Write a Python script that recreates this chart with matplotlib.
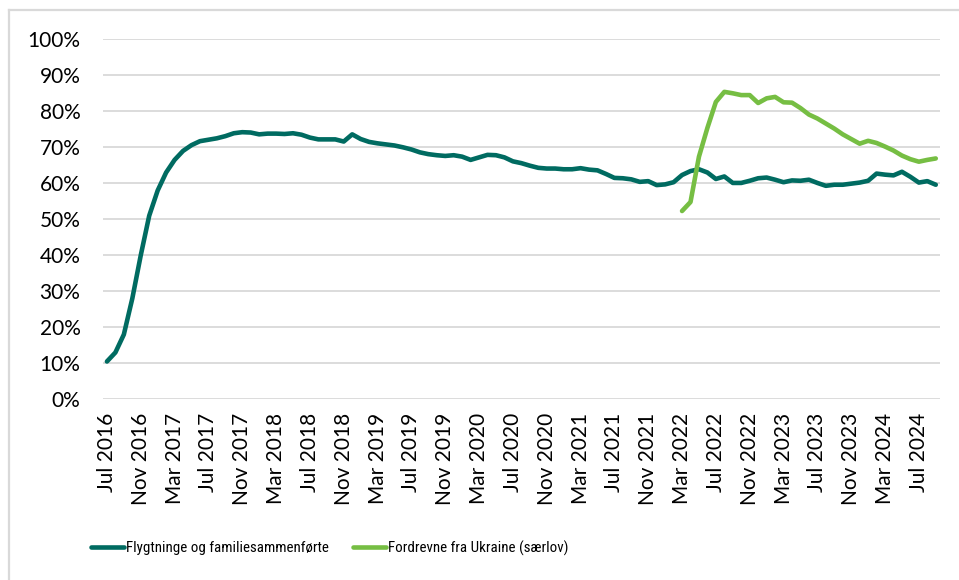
import matplotlib
matplotlib.use("Agg")
import matplotlib.pyplot as plt
from matplotlib.lines import Line2D
from matplotlib.font_manager import FontProperties
import numpy as np
import pandas as pd

# monthly shares, Jul 2016 - Sep 2024 (pct)
months = pd.date_range("2016-07-01", periods=99, freq="MS")
labels = [m.strftime("%b %Y") for m in months]

flygtninge = [
    10.5, 13.0, 18.0, 28.0, 40.0, 51.0, 58.0, 63.0, 66.5, 69.0,
    70.6, 71.7, 72.1, 72.5, 73.1, 73.9, 74.2, 74.1, 73.6, 73.8,
    73.8, 73.7, 73.9, 73.5, 72.7, 72.2, 72.2, 72.2, 71.6, 73.6,
    72.3, 71.5, 71.1, 70.8, 70.5, 70.0, 69.4, 68.6, 68.1, 67.8,
    67.6, 67.8, 67.4, 66.5, 67.2, 67.9, 67.8, 67.2, 66.1, 65.6,
    64.9, 64.3, 64.1, 64.1, 63.9, 63.9, 64.2, 63.8, 63.6, 62.6,
    61.5, 61.4, 61.1, 60.4, 60.6, 59.5, 59.7, 60.3, 62.3, 63.4,
    63.9, 63.0, 61.2, 61.9, 60.1, 60.1, 60.7, 61.4, 61.6, 61.0,
    60.3, 60.8, 60.7, 61.0, 60.1, 59.3, 59.6, 59.6, 59.9, 60.2,
    60.7, 62.7, 62.4, 62.2, 63.2, 61.8, 60.2, 60.6, 59.6,
]

# Ukraine special act starts Mar 2022
ukraine = [np.nan] * 68 + [
    52.3, 54.8, 67.4, 75.4, 82.6, 85.4, 85.0, 84.5, 84.5, 82.3,
    83.6, 84.0, 82.5, 82.4, 80.9, 79.1, 78.0, 76.6, 75.2, 73.6,
    72.3, 71.0, 71.8, 71.2, 70.2, 69.1, 67.7, 66.7, 66.0, 66.5,
    66.9,
]

series_names = ["Flygtninge og familiesammenførte", "Fordrevne fra Ukraine (særlov)"]
colors = ["#006b61", "#76be43"]

plt.rcParams["font.family"] = ["Lato", "DejaVu Sans"]

fig = plt.figure(figsize=(9.59, 5.8), dpi=100)
W, H = 959, 580
ax = fig.add_axes([102.7 / W, 1 - 399.3 / H, (940 - 102.7) / W, (399.3 - 39.3) / H])

x = np.arange(len(months))
for vals, name, c in zip([flygtninge, ukraine], series_names, colors):
    ax.plot(x, vals, color=c, lw=3.3, label=name,
            solid_joinstyle="round", solid_capstyle="round")

ax.set_xlim(-0.5, len(months) - 0.5)
ax.set_ylim(0, 100)
ax.set_yticks(np.arange(0, 101, 10))
ax.set_yticklabels([f"{v}%" for v in range(0, 101, 10)], fontsize=15)
ax.set_xticks(x[::4])
ax.set_xticklabels(labels[::4], rotation=90, fontsize=15, ha="center", va="top")
ax.tick_params(axis="both", length=0, colors="black")
ax.tick_params(axis="y", pad=16)
ax.tick_params(axis="x", pad=10)

ax.grid(axis="y", color="#d9d9d9", lw=1.3)
ax.set_axisbelow(True)
for s in ax.spines.values():
    s.set_visible(False)

# outer chart frame (partly cut off)
fig.add_artist(Line2D([9 / W, 9 / W], [0, 1 - 10 / H], color="#d9d9d9", lw=1.6,
                      transform=fig.transFigure))
fig.add_artist(Line2D([9 / W, 1], [1 - 10 / H, 1 - 10 / H], color="#d9d9d9", lw=1.6,
                      transform=fig.transFigure))

leg_font = FontProperties(family=["Roboto Condensed", "DejaVu Sans"],
                          stretch="condensed", size=10.8)
leg = fig.legend(loc="center left", bbox_to_anchor=(91 / W, 1 - 548 / H), ncol=2,
                 frameon=False, borderpad=0, borderaxespad=0,
                 handlelength=2.2, handletextpad=0.15, columnspacing=1.6,
                 prop=leg_font)

fig.savefig("out.png", dpi=100)
